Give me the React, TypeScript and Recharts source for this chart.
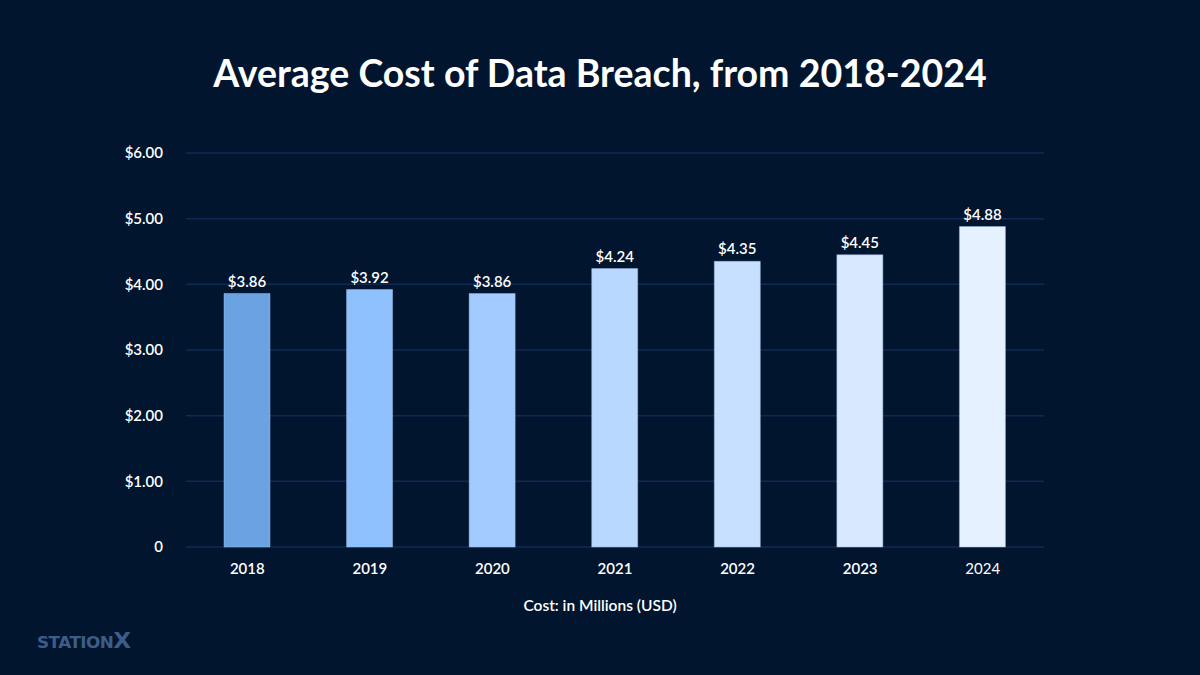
import React from "react";
import { BarChart, Bar, XAxis, YAxis, CartesianGrid, LabelList, Cell } from "recharts";

const years = ["2018", "2019", "2020", "2021", "2022", "2023", "2024"];
const costs = [3.86, 3.92, 3.86, 4.24, 4.35, 4.45, 4.88];
const barColors = ["#6ba3e2", "#8fc1ff", "#a3cbff", "#b8d8ff", "#c8e0ff", "#d7e8ff", "#e6f1ff"];
const yTicks = [0, 1, 2, 3, 4, 5, 6];

const data = years.map((y, i) => ({ year: y, cost: costs[i] }));

const BG = "#01152e";
const FONT = "Lato, 'Open Sans', sans-serif";

const XTick = (props: any) => {
  const { x, y, payload } = props;
  const last = payload.value === years[years.length - 1];
  return (
    <text x={x} y={y} dy="0.71em" textAnchor="middle" fill="#ffffff" fontSize={15} fontWeight={last ? 400 : 600} fontFamily={FONT}>
      {payload.value}
    </text>
  );
};

export default function App() {
  return (
    <div style={{ position: "fixed", left: 0, top: 0, width: 1200, height: 675, background: BG, fontFamily: FONT, overflow: "hidden" }}>
      <div style={{ position: "absolute", top: 50, left: 0, width: 1200, textAlign: "center", color: "#ffffff", fontSize: 37.5, fontWeight: 700 }}>
        Average Cost of Data Breach, from 2018-2024
      </div>
      <div style={{ position: "absolute", left: 0, top: 0 }}>
        <BarChart width={1200} height={675} data={data} margin={{ top: 153, right: 156, bottom: 98, left: 0 }}>
          <CartesianGrid vertical={false} stroke="#0f2a52" strokeWidth={1.5} />
          <XAxis
            dataKey="year"
            axisLine={false}
            tickLine={false}
            tickMargin={10}
            height={30}
            tick={<XTick />}
          />
          <YAxis
            width={186}
            domain={[0, 6]}
            ticks={yTicks}
            axisLine={false}
            tickLine={false}
            tickMargin={17}
            tickFormatter={(v: number) => (v === 0 ? "0" : `$${v.toFixed(2)}`)}
            tick={{ fill: "#ffffff", fontSize: 15, fontWeight: 600, fontFamily: FONT }}
          />
          <Bar dataKey="cost" barSize={46} isAnimationActive={false}>
            {data.map((d, i) => (
              <Cell key={d.year} fill={barColors[i]} stroke="#9ab8dc" strokeWidth={0.5} />
            ))}
            <LabelList
              dataKey="cost"
              position="top"
              offset={7}
              formatter={(v: number) => `$${v.toFixed(2)}`}
              style={{ fill: "#ffffff", fontSize: 15, fontWeight: 600, fontFamily: FONT }}
            />
          </Bar>
        </BarChart>
      </div>
      <div style={{ position: "absolute", top: 596, left: 0, width: 1200, textAlign: "center", color: "#ffffff", fontSize: 15.5, fontWeight: 600 }}>
        Cost: in Millions (USD)
      </div>
      <div style={{ position: "absolute", left: 37, top: 628, color: "#3d5c88", fontSize: 16, fontWeight: 700, letterSpacing: -0.5, fontFamily: "'DejaVu Sans', sans-serif", transform: "scaleX(1.05)", transformOrigin: "left" }}>
        STATION<span style={{ fontSize: 22, fontWeight: 900 }}>X</span>
      </div>
    </div>
  );
}
